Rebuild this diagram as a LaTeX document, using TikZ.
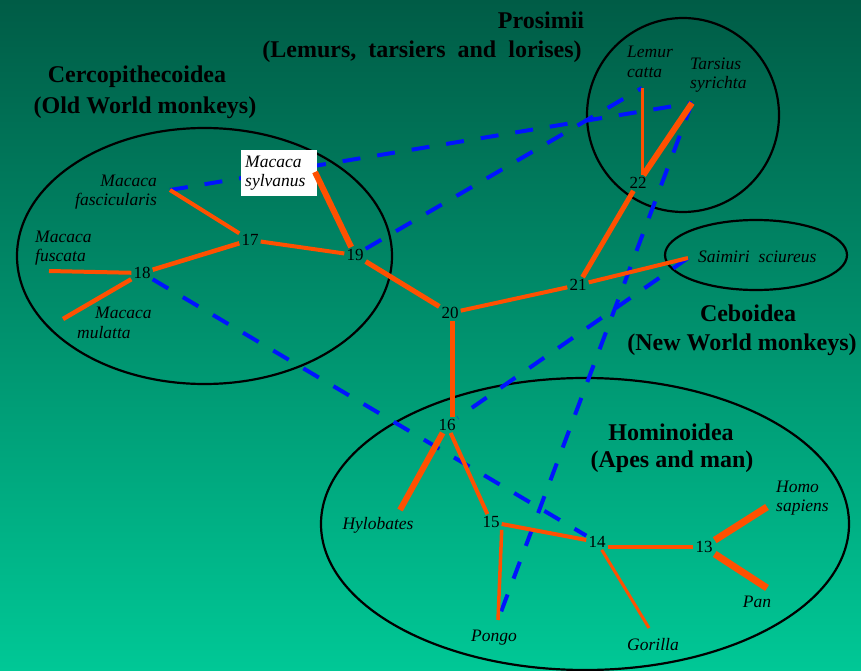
\documentclass[tikz,border=0pt]{standalone}
\usepackage{fontspec}
\setmainfont{Liberation Serif}
\definecolor{bgtop}{RGB}{0,92,70}
\definecolor{bgbot}{RGB}{0,200,150}
\definecolor{edgeorange}{RGB}{255,80,0}
\definecolor{linkblue}{RGB}{0,20,255}
\begin{document}
\begin{tikzpicture}[x=1pt,y=-1pt,
  grp/.style={font=\fontsize{24}{26}\selectfont\bfseries, inner sep=0pt},
  spc/.style={font=\fontsize{17.5}{19.5}\selectfont\itshape, inner sep=0pt},
  num/.style={font=\fontsize{17}{19}\selectfont, inner sep=2pt},
  clade/.style={draw=black, line width=2.2pt},
  tree/.style={draw=edgeorange, line width=#1},
  tree/.default=4pt,
  xfer/.style={draw=linkblue, line width=4pt, dash pattern=on 18pt off 17pt},
]
\useasboundingbox (0,0) rectangle (861,671);
\shade[top color=bgtop, bottom color=bgbot] (0,0) rectangle (861,671);

% clade outlines
\draw[clade] (204.5,256) ellipse [x radius=187.5, y radius=128];
\draw[clade] (683,115) ellipse [x radius=96, y radius=97];
\draw[clade] (756,255) ellipse [x radius=91, y radius=35];
\draw[clade] (585,524) ellipse [x radius=264, y radius=146];

% group titles
\node[grp] (cerc) at (137,77) {Cercopithecoidea};
\node[grp] (old) at (145,108) {(Old World monkeys)};
\node[grp] (pros) at (541,20) {Prosimii};
\node[grp] (lemt) at (422,52) {(Lemurs,\ \ tarsiers\ \ and\ \ lorises)};
\node[grp] (cebo) at (748,313) {Ceboidea};
\node[grp] (neww) at (742,345) {(New World monkeys)};
\node[grp] (homi) at (671,432) {Hominoidea};
\node[grp] (apes) at (672,462) {(Apes and man)};

% internal nodes
\node[num] (n13) at (704,547) {13};
\node[num] (n14) at (597,542) {14};
\node[num] (n15) at (491,522) {15};
\node[num] (n16) at (447,425) {16};
\node[num] (n17) at (250,240) {17};
\node[num] (n18) at (142,273) {18};
\node[num] (n19) at (355,255) {19};
\node[num] (n20) at (450,313) {20};
\node[num] (n21) at (578,285) {21};
\node[num] (n22) at (638,183) {22};

% species labels
\node[spc, anchor=east, align=right] (fas) at (157,192) {Macaca\\fascicularis};
\node[spc, anchor=west, align=left] (fus) at (35,248) {Macaca\\fuscata};
\node[spc, anchor=west, align=left] (mul) at (77,323) {\hspace*{18pt}Macaca\\mulatta};
\node[spc, anchor=west, align=left] (lem) at (627,62) {Lemur\\catta};
\node[spc, anchor=west, align=left] (tar) at (690,75) {Tarsius\\syrichta};
\node[spc, anchor=west] (sai) at (698,257) {Saimiri\hspace{9pt}sciureus};
\node[spc] (hyl) at (378,525) {Hylobates};
\node[spc] (pon) at (494,638) {Pongo};
\node[spc] (gor) at (653,645) {Gorilla};
\node[spc, anchor=west, align=left] (hom) at (776,498) {Homo\\sapiens};
\node[spc] (pan) at (757,602) {Pan};

% leaf ends of the branches
\coordinate (cFas) at (170,190);
\coordinate (cFus) at (49,271);
\coordinate (cMul) at (63,319);
\coordinate (cSyl) at (315,172);
\coordinate (cLem) at (642,88);
\coordinate (cTar) at (692,103);
\coordinate (cSai) at (688,258);
\coordinate (cHyl) at (400,510);
\coordinate (cPon) at (498,620);
\coordinate (cGor) at (649,628);
\coordinate (cHom) at (767,507);
\coordinate (cPan) at (767,588);

% blue dashed links
\draw[xfer] (cFas) -- (cTar);
\draw[xfer] (n19) -- (cLem);
\draw[xfer] (cTar) -- (cPon);
\draw[xfer] (cSai) -- (n16);
\draw[xfer] (n18) -- (n14);

% Macaca sylvanus label in white box
\node[spc, fill=white, anchor=north west, text width=68pt, inner xsep=4pt,
      minimum height=46pt, align=left] (syl) at (241,150) {Macaca\\sylvanus};

% tree branches
\draw[tree=4pt] (n17) -- (cFas);
\draw[tree=4.5pt] (n17) -- (n18);
\draw[tree=4pt] (n17) -- (n19);
\draw[tree=4pt] (n18) -- (cFus);
\draw[tree=4.5pt] (n18) -- (cMul);
\draw[tree=6pt] (n19) -- (cSyl);
\draw[tree=5pt] (n19) -- (n20);
\draw[tree=4pt] (n20) -- (n21);
\draw[tree=5pt] (n21) -- (n22);
\draw[tree=4pt] (n21) -- (cSai);
\draw[tree=3pt] (n22.north -| cLem) -- (cLem);
\draw[tree=6pt] (n22) -- (cTar);
\draw[tree=5pt] ([xshift=2pt]n20.south) -- ([xshift=2pt]n20.south |- n16.north);
\draw[tree=6pt] (n16) -- (cHyl);
\draw[tree=4pt] (n16) -- (n15);
\draw[tree=3.5pt] (n15.south east) -- (cPon);
\draw[tree=4pt] (n15) -- (n14);
\draw[tree=4pt] (n14.east |- n13) -- (n13.west);
\draw[tree=3pt] (n14) -- (cGor);
\draw[tree=7pt] (n13) -- (cHom);
\draw[tree=7pt] (n13) -- (cPan);
\end{tikzpicture}
\end{document}
